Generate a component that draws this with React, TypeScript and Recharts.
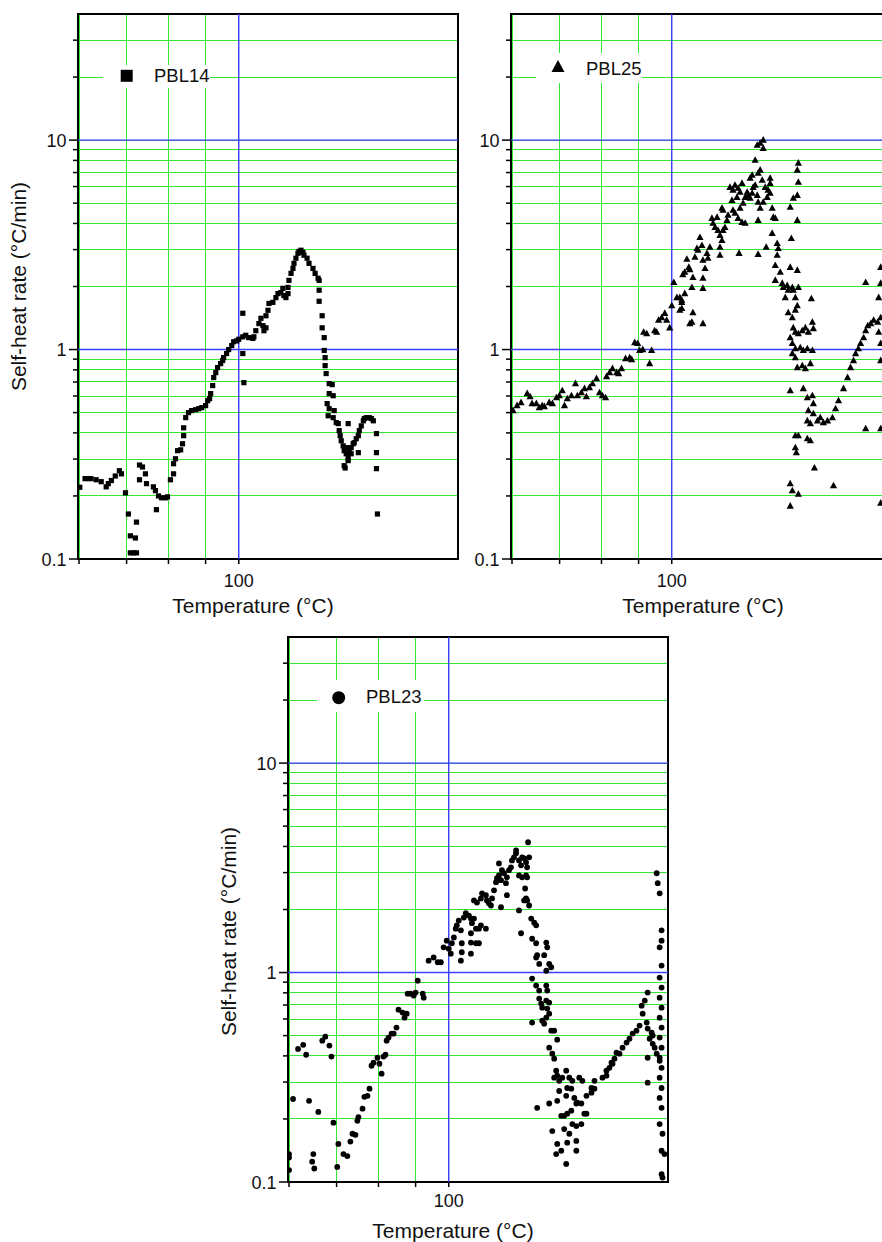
import React from 'react';
import {
  ScatterChart,
  Scatter,
  XAxis,
  YAxis,
  CartesianGrid,
  ReferenceLine,
  ReferenceArea
} from 'recharts';

// Temperature (°C) and self-heat rate (°C/min)
const pbl14Temp = [
  20.3, 22.4, 23.6, 24.8, 26.9, 29.0, 31.1, 32.0, 33.3, 35.0, 36.8, 37.7,
  39.5, 40.8, 41.7, 41.7, 43.1, 44.0, 44.5, 44.5, 45.9, 45.9, 47.3, 48.7,
  49.2, 52.5, 53.5, 54.0, 55.0, 56.5, 58.5, 59.5, 61.0, 62.6, 62.6, 63.6,
  64.7, 66.3, 67.3, 67.9, 67.9, 69.0, 70.5, 72.2, 74.4, 76.1, 77.8, 80.0,
  81.2, 82.3, 82.9, 84.1, 84.7, 85.9, 87.0, 88.8, 90.0, 90.6, 92.4, 93.7,
  95.6, 96.8, 98.7, 100.0, 102.6, 102.6, 102.6, 103.3, 104.5, 106.5, 109.2, 109.9,
  111.2, 113.3, 114.7, 116.1, 116.8, 118.2, 118.2, 119.6, 120.3, 123.1, 125.3, 126.8,
  128.9, 130.4, 131.2, 132.7, 134.3, 134.3, 135.0, 136.6, 138.1, 138.9, 140.4, 142.0,
  142.8, 144.4, 146.0, 146.8, 149.3, 150.9, 154.2, 156.0, 158.5, 159.4, 159.4, 159.4,
  162.0, 162.0, 163.8, 163.8, 164.6, 164.6, 165.5, 166.4, 167.3, 168.2, 168.2, 168.2,
  170.9, 171.8, 171.8, 172.7, 174.6, 176.4, 177.3, 178.2, 179.2, 181.0, 182.0, 182.0,
  182.9, 183.9, 184.9, 185.8, 185.8, 185.8, 186.8, 188.7, 188.7, 190.7, 191.7, 193.7,
  195.8, 195.8, 196.8, 198.8, 200.9, 201.9, 204.0, 207.1, 209.3, 211.4, 214.8, 214.8,
  214.8, 215.9
];
const pbl14Rate = [
  0.22, 0.242, 0.242, 0.242, 0.239, 0.234, 0.221, 0.229, 0.237, 0.249, 0.264, 0.255,
  0.207, 0.164, 0.129, 0.107, 0.107, 0.126, 0.15, 0.107, 0.281, 0.239, 0.275, 0.255,
  0.229, 0.221, 0.212, 0.172, 0.2, 0.196, 0.196, 0.198, 0.239, 0.255, 0.285, 0.301,
  0.329, 0.332, 0.355, 0.388, 0.423, 0.473, 0.5, 0.511, 0.516, 0.522, 0.528, 0.54,
  0.57, 0.583, 0.616, 0.673, 0.735, 0.776, 0.82, 0.857, 0.886, 0.915, 0.957, 1.0,
  1.045, 1.09, 1.1, 1.12, 1.15, 0.957, 1.49, 0.695, 1.17, 1.14, 1.13, 1.15,
  1.23, 1.33, 1.41, 1.3, 1.23, 1.27, 1.45, 1.54, 1.66, 1.68, 1.77, 1.85,
  1.87, 1.96, 1.81, 1.77, 1.85, 1.98, 2.14, 2.31, 2.44, 2.58, 2.73, 2.88,
  2.94, 2.98, 2.91, 2.82, 2.73, 2.58, 2.44, 2.31, 2.19, 2.14, 1.92, 1.7,
  1.45, 1.27, 1.14, 0.99, 0.915, 0.838, 0.768, 0.552, 0.483, 0.688, 0.616, 0.522,
  0.68, 0.602, 0.473, 0.511, 0.448, 0.443, 0.41, 0.388, 0.367, 0.347, 0.329, 0.279,
  0.272, 0.318, 0.34, 0.304, 0.295, 0.443, 0.322, 0.34, 0.318, 0.355, 0.359, 0.375,
  0.388, 0.322, 0.41, 0.432, 0.457, 0.468, 0.473, 0.473, 0.468, 0.457, 0.397, 0.322,
  0.27, 0.164
];

const pbl25Temp = [
  20.4, 22.0, 23.6, 26.1, 27.3, 28.1, 29.9, 31.1, 32.4, 33.3, 35.4, 36.8,
  38.6, 39.9, 41.2, 42.2, 43.5, 45.4, 47.3, 48.2, 50.1, 51.6, 52.5, 54.0,
  55.5, 57.5, 59.0, 60.5, 62.1, 62.6, 64.2, 65.7, 67.9, 69.0, 70.5, 72.7,
  75.0, 76.1, 77.8, 79.5, 80.6, 82.4, 82.9, 84.7, 87.6, 86.4, 89.4, 90.6,
  91.8, 93.7, 95.6, 96.8, 98.7, 100.0, 101.3, 103.3, 105.2, 106.5, 105.2, 107.2,
  108.5, 109.9, 111.2, 111.9, 106.5, 106.5, 108.5, 113.3, 114.0, 113.3, 114.0, 121.0,
  121.0, 121.0, 111.9, 115.4, 117.5, 120.3, 118.9, 116.8, 121.0, 123.9, 124.6, 126.0,
  122.5, 128.3, 127.5, 131.3, 129.8, 132.0, 133.5, 135.0, 133.5, 133.5, 135.8, 137.3,
  138.9, 139.7, 135.8, 135.0, 141.2, 143.6, 145.2, 147.7, 150.9, 149.3, 146.8, 142.8,
  143.6, 145.2, 147.7, 150.9, 153.5, 149.3, 151.8, 153.5, 155.2, 156.1, 157.7, 159.4,
  160.3, 157.7, 159.4, 162.0, 163.8, 166.4, 169.1, 169.1, 164.6, 166.4, 168.2, 162.0,
  163.8, 164.6, 166.4, 164.6, 148.5, 164.6, 171.8, 169.1, 172.7, 173.5, 175.4, 175.4,
  177.3, 178.3, 180.2, 175.4, 170.9, 177.3, 182.0, 183.0, 182.0, 180.2, 184.9, 180.2,
  186.8, 187.8, 191.7, 189.8, 192.7, 196.8, 192.7, 196.8, 199.9, 201.9, 199.9, 197.8,
  203.0, 194.7, 201.9, 195.8, 201.9, 201.9, 203.0, 201.9, 203.0, 197.8, 194.7, 197.8,
  199.9, 203.0, 207.1, 210.4, 213.6, 218.0, 219.1, 216.9, 194.7, 196.8, 199.9, 205.0,
  208.2, 212.5, 218.0, 196.8, 199.9, 201.9, 207.1, 210.4, 215.8, 194.7, 208.2, 212.5,
  218.0, 219.1, 213.6, 212.5, 215.8, 219.1, 223.7, 199.9, 203.0, 212.5, 215.8, 199.9,
  200.9, 220.3, 194.7, 196.8, 203.0, 194.7, 242.5, 226.9, 230.5, 235.3, 241.2, 245.0,
  248.7, 255.0, 260.2, 264.1, 268.1, 270.9, 274.7, 277.7, 282.0, 284.9, 287.9, 292.3,
  296.5, 302.6, 307.2, 304.1, 307.2, 307.2, 284.9, 284.9, 307.2, 307.2, 307.2, 304.1,
  307.2
];
const pbl25Rate = [
  0.511, 0.54, 0.558, 0.616, 0.596, 0.552, 0.552, 0.528, 0.54, 0.534, 0.558, 0.552,
  0.589, 0.602, 0.636, 0.54, 0.583, 0.602, 0.688, 0.602, 0.622, 0.651, 0.596, 0.658,
  0.688, 0.727, 0.622, 0.602, 0.589, 0.743, 0.776, 0.811, 0.776, 0.768, 0.811, 0.906,
  0.915, 0.896, 1.08, 1.07, 0.99, 1.0, 1.21, 1.19, 0.99, 0.857, 1.23, 1.21,
  1.38, 1.42, 1.49, 1.38, 1.27, 1.62, 2.09, 1.77, 1.77, 1.68, 1.54, 2.28,
  2.34, 2.7, 2.47, 1.33, 1.72, 1.57, 1.85, 1.98, 1.5, 1.35, 2.21, 1.33,
  1.96, 2.19, 2.41, 2.76, 2.98, 3.14, 3.43, 3.04, 2.67, 2.88, 2.73, 3.08,
  2.44, 4.01, 4.23, 4.28, 3.83, 3.71, 3.51, 3.32, 3.08, 2.82, 3.71, 3.83,
  4.14, 4.38, 4.63, 4.73, 5.95, 5.77, 6.09, 5.89, 6.22, 5.64, 5.33, 5.16,
  4.63, 4.48, 4.23, 4.05, 4.01, 4.73, 5.0, 5.33, 5.64, 5.45, 5.28, 5.58,
  5.95, 6.58, 6.8, 8.02, 9.45, 9.66, 10.0, 9.14, 6.95, 7.19, 6.44, 6.09,
  5.45, 5.05, 4.73, 4.14, 2.88, 2.85, 3.08, 5.05, 5.33, 5.77, 6.22, 5.58,
  4.73, 4.28, 4.23, 6.58, 5.95, 3.59, 3.21, 3.04, 2.82, 2.52, 2.34, 2.14,
  2.07, 1.98, 2.02, 1.77, 1.92, 1.98, 1.5, 1.42, 1.54, 1.62, 1.77, 1.92,
  1.98, 2.47, 2.39, 3.39, 4.14, 5.45, 6.29, 7.19, 7.77, 5.28, 4.78, 1.27,
  1.21, 1.19, 1.23, 1.27, 1.21, 1.35, 1.26, 1.75, 1.14, 1.07, 1.01, 1.02,
  0.99, 1.01, 0.99, 0.957, 0.915, 0.82, 0.838, 0.811, 0.857, 0.636, 0.651, 0.589,
  0.602, 0.552, 0.511, 0.457, 0.443, 0.494, 0.457, 0.388, 0.388, 0.375, 0.367, 0.34,
  0.322, 0.272, 0.229, 0.212, 0.204, 0.179, 0.224, 0.473, 0.448, 0.457, 0.473, 0.522,
  0.57, 0.651, 0.735, 0.82, 0.886, 0.957, 1.01, 1.07, 1.14, 1.23, 1.3, 1.33,
  1.38, 1.35, 1.42, 1.77, 2.07, 2.47, 2.09, 0.419, 0.419, 0.185, 0.886, 1.21,
  1.07
];

const pbl23Temp = [
  20.0, 20.0, 20.0, 21.6, 23.6, 25.7, 26.9, 28.1, 29.9, 29.4, 30.3, 32.0,
  33.7, 35.0, 36.8, 37.7, 38.6, 40.8, 40.3, 43.1, 44.9, 46.3, 47.3, 48.7,
  49.6, 50.1, 52.1, 53.0, 54.5, 55.5, 56.5, 57.5, 59.5, 60.5, 61.6, 62.6,
  63.6, 64.2, 65.2, 66.8, 67.9, 69.4, 70.5, 72.7, 73.8, 75.0, 75.5, 77.2,
  78.9, 80.0, 81.2, 84.1, 84.7, 87.6, 90.6, 93.1, 95.0, 96.8, 98.7, 100.0,
  101.3, 102.0, 103.3, 104.5, 105.2, 106.5, 107.9, 108.5, 108.5, 107.9, 109.9, 111.2,
  113.3, 114.7, 115.4, 116.8, 118.2, 114.7, 114.7, 114.7, 118.2, 120.3, 120.3, 121.7,
  125.3, 116.8, 118.9, 121.7, 122.5, 125.3, 126.0, 127.5, 129.0, 129.8, 131.3, 132.8,
  133.5, 135.0, 136.6, 137.3, 138.9, 141.2, 140.4, 136.6, 141.2, 142.8, 144.4, 145.2,
  146.8, 148.5, 148.5, 150.9, 152.6, 153.5, 155.2, 156.8, 157.7, 159.4, 135.0, 158.5,
  150.9, 153.5, 156.8, 157.7, 156.0, 156.8, 155.2, 157.7, 159.4, 150.9, 152.6, 161.2,
  163.8, 165.5, 162.0, 165.5, 165.5, 166.4, 168.2, 172.7, 174.6, 175.5, 177.3, 179.2,
  174.6, 162.0, 165.5, 168.2, 174.6, 175.5, 168.2, 170.0, 170.9, 174.6, 177.3, 175.5,
  177.3, 174.6, 170.9, 172.7, 162.0, 179.2, 182.0, 184.9, 177.3, 180.2, 182.0, 183.9,
  182.0, 184.9, 186.8, 189.8, 193.7, 196.8, 199.9, 207.1, 210.4, 166.4, 177.3, 184.9,
  186.8, 193.7, 194.7, 198.8, 201.9, 204.0, 205.0, 209.3, 212.5, 214.8, 188.8, 191.7,
  194.7, 198.8, 180.2, 191.7, 196.8, 199.9, 204.0, 209.3, 184.9, 183.9, 188.8, 194.7,
  204.0, 204.0, 193.7, 214.8, 220.3, 223.7, 232.9, 237.6, 241.2, 245.0, 249.9, 220.3,
  223.7, 237.6, 243.7, 247.4, 253.7, 257.6, 262.8, 266.7, 270.9, 276.2, 280.5, 283.4,
  287.9, 292.1, 284.9, 290.7, 292.1, 298.0, 295.0, 299.6, 292.1, 302.6, 299.6, 292.1,
  305.6, 310.2, 305.6, 307.2, 310.2, 313.2, 313.2, 310.2, 313.2, 310.2, 313.2, 310.2,
  313.2, 310.2, 313.2, 310.2, 313.2, 310.2, 313.2, 310.2, 313.2, 310.2, 313.2, 310.2,
  314.7, 313.2, 317.8, 313.2, 314.7
];
const pbl23Rate = [
  0.136, 0.131, 0.114, 0.249, 0.432, 0.452, 0.405, 0.244, 0.136, 0.125, 0.116, 0.216,
  0.473, 0.494, 0.448, 0.397, 0.192, 0.152, 0.118, 0.136, 0.133, 0.156, 0.17, 0.168,
  0.196, 0.204, 0.224, 0.255, 0.258, 0.279, 0.359, 0.371, 0.392, 0.367, 0.329, 0.397,
  0.405, 0.473, 0.489, 0.511, 0.511, 0.546, 0.665, 0.644, 0.609, 0.636, 0.793, 0.793,
  0.776, 0.802, 0.915, 0.793, 0.759, 1.14, 1.18, 1.12, 1.12, 1.32, 1.42, 1.3,
  1.23, 1.38, 1.47, 1.62, 1.68, 1.77, 1.59, 1.38, 1.25, 1.14, 1.83, 1.92,
  1.87, 1.81, 1.72, 1.81, 1.62, 1.54, 1.39, 1.23, 1.38, 1.38, 1.62, 1.68,
  1.62, 2.21, 2.16, 2.26, 2.39, 2.34, 2.21, 2.14, 2.09, 2.26, 2.47, 2.7,
  2.82, 2.91, 2.76, 3.08, 2.98, 2.85, 2.67, 2.05, 2.34, 3.08, 3.18, 3.43,
  3.55, 3.71, 3.83, 3.43, 3.25, 3.55, 3.51, 3.36, 3.18, 3.55, 3.32, 4.19,
  2.91, 2.85, 2.91, 2.85, 2.52, 2.26, 2.21, 2.21, 2.09, 1.98, 1.54, 1.81,
  1.73, 1.68, 1.45, 1.38, 1.18, 1.21, 1.1, 1.21, 1.39, 1.32, 1.1, 1.06,
  1.02, 0.936, 0.867, 0.82, 0.867, 0.82, 0.751, 0.711, 0.68, 0.735, 0.719, 0.673,
  0.636, 0.609, 0.589, 0.57, 0.577, 0.528, 0.528, 0.478, 0.438, 0.41, 0.388, 0.34,
  0.315, 0.322, 0.304, 0.315, 0.34, 0.315, 0.304, 0.315, 0.304, 0.226, 0.237, 0.244,
  0.272, 0.258, 0.281, 0.279, 0.252, 0.237, 0.239, 0.237, 0.212, 0.212, 0.207, 0.207,
  0.212, 0.219, 0.175, 0.179, 0.17, 0.189, 0.185, 0.189, 0.152, 0.136, 0.141, 0.154,
  0.157, 0.141, 0.122, 0.258, 0.267, 0.279, 0.315, 0.322, 0.351, 0.367, 0.414, 0.281,
  0.304, 0.34, 0.371, 0.388, 0.41, 0.438, 0.463, 0.483, 0.511, 0.528, 0.558, 0.695,
  0.735, 0.802, 0.636, 0.577, 0.54, 0.516, 0.483, 0.5, 0.392, 0.438, 0.457, 0.298,
  0.41, 0.379, 2.98, 2.67, 2.39, 1.59, 1.42, 1.32, 1.08, 0.946, 0.848, 0.759,
  0.68, 0.609, 0.546, 0.489, 0.438, 0.392, 0.351, 0.315, 0.281, 0.252, 0.226, 0.189,
  0.17, 0.141, 0.136, 0.109, 0.105
];

const tempTicks = [20, 40, 60, 80, 100];
const tempTickLabels = ['', '', '', '', '100'];
const tempGridBlue = 100;
const rateTicks = [0.1, 0.2, 0.3, 0.4, 0.5, 0.6, 0.7, 0.8, 0.9, 1, 2, 3, 4, 5, 6, 7, 8, 9, 10, 20, 30];
const rateMajor = [0.1, 1, 10];
const rateTickLabels = ['0.1', '1', '10'];
const T_MIN = 19.6;
const T_MAX = 323.5;
const RATE_MIN = 0.1;
const RATE_MAX = 40;

// x axis runs in reciprocal absolute temperature, labelled in °C
const toX = (t: number) => -1000 / (t + 273.15);
const toPoints = (temps: number[], rates: number[]) =>
  temps.map((t, i) => ({ x: toX(Math.max(t, T_MIN)), y: rates[i] }));

const FONT = '"Liberation Sans", Arial, Helvetica, sans-serif';
const GREEN = '#33e633';
const BLUE = '#3d3dff';
const Y_AXIS_W = 78;
const X_AXIS_H = 70;
const PLOT_W = 380;
const PLOT_H = 545;
const TOP = 14;

const makeTempTick = (labelDy: number) => (props: any) => {
  const { x, y, index } = props;
  const label = tempTickLabels[index];
  return (
    <g>
      <line x1={x} y1={y} x2={x} y2={y + 5} stroke="#000" strokeWidth={1.5} />
      {label && (
        <text x={x} y={y + labelDy} textAnchor="middle" fontSize={18} fontFamily={FONT} fill="#111">
          {label}
        </text>
      )}
    </g>
  );
};

const RateTick = (props: any) => {
  const { x, y, payload } = props;
  const idx = rateMajor.indexOf(payload.value);
  const major = idx >= 0;
  return (
    <g>
      <line x1={x - (major ? 9 : 5)} y1={y} x2={x} y2={y} stroke="#000" strokeWidth={1.5} />
      {major && (
        <text x={x - 11.5} y={y + 6.5} textAnchor="end" fontSize={18} fontFamily={FONT} fill="#111">
          {rateTickLabels[idx]}
        </text>
      )}
    </g>
  );
};

const squareShape = (p: any) => <rect x={p.cx - 2.6} y={p.cy - 2.6} width={5.2} height={5.2} fill="#000" />;
const triangleShape = (p: any) => (
  <polygon points={`${p.cx},${p.cy - 4} ${p.cx - 3.6},${p.cy + 2.6} ${p.cx + 3.6},${p.cy + 2.6}`} fill="#000" />
);
const circleShape = (p: any) => <circle cx={p.cx} cy={p.cy} r={2.9} fill="#000" />;

const LegendMarker = ({ kind, cx, cy }: { kind: string; cx: number; cy: number }) => {
  if (kind === 'square') return <rect x={cx - 6} y={cy - 6} width={12} height={12} fill="#000" />;
  if (kind === 'triangle')
    return <polygon points={`${cx},${cy - 7} ${cx - 6.5},${cy + 5} ${cx + 6.5},${cy + 5}`} fill="#000" />;
  return <circle cx={cx} cy={cy} r={6.5} fill="#000" />;
};

interface PanelProps {
  left: number;
  top: number;
  points: { x: number; y: number }[];
  shape: (p: any) => React.ReactElement;
  name: string;
  marker: string;
  legend: { x: number; y: number; w: number; h: number; mx: number; my: number; tx: number; ty: number };
  tickLabelDy: number;
  xTitleDx: number;
  xTitleBaseline: number;
  yTitle: boolean;
  yTitleDy: number;
}

const Panel = ({
  left, top, points, shape, name, marker, legend, tickLabelDy, xTitleDx, xTitleBaseline, yTitle, yTitleDy
}: PanelProps) => (
  <div style={{ position: 'absolute', left: left - Y_AXIS_W, top: top - TOP }}>
    <ScatterChart
      width={Y_AXIS_W + PLOT_W + 10}
      height={TOP + PLOT_H + X_AXIS_H}
      margin={{ top: TOP, right: 10, bottom: 0, left: 0 }}
    >
      <CartesianGrid stroke={GREEN} strokeWidth={1} />
      <XAxis
        type="number"
        dataKey="x"
        domain={[toX(T_MIN), toX(T_MAX)]}
        allowDataOverflow
        ticks={tempTicks.map(toX)}
        interval={0}
        tick={makeTempTick(tickLabelDy)}
        tickLine={false}
        tickSize={0}
        tickMargin={0}
        axisLine={false}
        height={X_AXIS_H}
        label={{
          value: 'Temperature (°C)',
          position: 'insideBottom',
          offset: X_AXIS_H - xTitleBaseline,
          dx: xTitleDx,
          style: { fontSize: 21, fontFamily: FONT, fill: '#111' }
        }}
      />
      <YAxis
        type="number"
        dataKey="y"
        scale="log"
        domain={[RATE_MIN, RATE_MAX]}
        allowDataOverflow
        ticks={rateTicks}
        interval={0}
        tick={<RateTick />}
        tickLine={false}
        tickSize={0}
        tickMargin={0}
        axisLine={false}
        width={Y_AXIS_W}
        label={
          yTitle
            ? {
                value: 'Self-heat rate (°C/min)',
                angle: -90,
                position: 'insideLeft',
                offset: 19,
                dy: yTitleDy,
                style: { fontSize: 21, fontFamily: FONT, fill: '#111', textAnchor: 'middle' }
              }
            : undefined
        }
      />
      <ReferenceLine y={1} stroke={BLUE} strokeWidth={1.4} />
      <ReferenceLine y={10} stroke={BLUE} strokeWidth={1.4} />
      <ReferenceLine x={toX(tempGridBlue)} stroke={BLUE} strokeWidth={1.4} />
      <Scatter data={points} shape={shape} isAnimationActive={false} />
      <ReferenceArea
        x1={toX(T_MIN)}
        x2={toX(T_MAX)}
        y1={RATE_MIN}
        y2={RATE_MAX}
        fill="none"
        fillOpacity={0}
        stroke="#000"
        strokeWidth={2}
        ifOverflow="visible"
      />
    </ScatterChart>
    <svg
      width={legend.w}
      height={legend.h}
      style={{ position: 'absolute', left: Y_AXIS_W + legend.x, top: TOP + legend.y }}
    >
      <rect x={0} y={0} width={legend.w} height={legend.h} fill="#fff" />
      <LegendMarker kind={marker} cx={legend.mx} cy={legend.my} />
      <text x={legend.tx} y={legend.ty} fontSize={18.5} fontFamily={FONT} fill="#111">
        {name}
      </text>
    </svg>
  </div>
);

export default function App() {
  return (
    <div
      style={{
        position: 'absolute',
        left: 0,
        top: 0,
        width: 882,
        height: 1242,
        overflow: 'hidden',
        background: '#fff',
        fontFamily: FONT
      }}
    >
      <style>{`.recharts-cartesian-grid line { shape-rendering: crispEdges; }`}</style>
      <Panel
        left={78}
        top={14}
        points={toPoints(pbl14Temp, pbl14Rate)}
        shape={squareShape}
        name="PBL14"
        marker="square"
        legend={{ x: 25, y: 51, w: 107, h: 23, mx: 23.7, my: 10.8, tx: 51, ty: 16.7 }}
        tickLabelDy={28}
        xTitleDx={-15}
        xTitleBaseline={54}
        yTitle
        yTitleDy={0}
      />
      <Panel
        left={511}
        top={14}
        points={toPoints(pbl25Temp, pbl25Rate)}
        shape={triangleShape}
        name="PBL25"
        marker="triangle"
        legend={{ x: 25, y: 39, w: 106, h: 30, mx: 22, my: 14, tx: 50, ty: 21.5 }}
        tickLabelDy={28}
        xTitleDx={2}
        xTitleBaseline={54}
        yTitle={false}
        yTitleDy={0}
      />
      <Panel
        left={288}
        top={637}
        points={toPoints(pbl23Temp, pbl23Rate)}
        shape={circleShape}
        name="PBL23"
        marker="circle"
        legend={{ x: 29, y: 43, w: 107, h: 32, mx: 21.7, my: 17.7, tx: 49, ty: 23.3 }}
        tickLabelDy={25}
        xTitleDx={-25}
        xTitleBaseline={56}
        yTitle
        yTitleDy={22}
      />
    </div>
  );
}
